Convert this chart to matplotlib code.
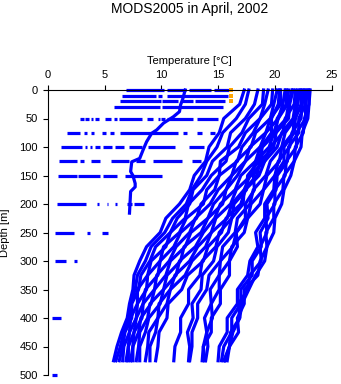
import matplotlib
matplotlib.use("Agg")
import matplotlib.pyplot as plt

plt.rcParams['font.family'] = ['Liberation Sans', 'DejaVu Sans']

title = "MODS2005 in April, 2002"
xlabel = "Temperature [°C]"
ylabel = "Depth [m]"
x_ticks = [0, 5, 10, 15, 20, 25]
y_ticks = [0, 50, 100, 150, 200, 250, 300, 350, 400, 450, 500]

# profile depths (m)
depths = [0, 25, 50, 75, 100, 125, 150, 175, 200, 225, 250, 275, 300, 325, 350, 375, 400, 425, 450, 475]

# temperature profiles (deg C) at the depths above
p01 = [17.3, 16.9, 15.5, 15.1, 14.2, 13.9, 12.9, 12.5, 11.6, 10.4, 9.9, 8.7, 8.1, 7.6, 7.5, 7.2, 7.0, 6.5, 6.1, 5.8]
p02 = [17.7, 17.4, 16.6, 15.4, 14.9, 14.0, 13.5, 12.7, 12.2, 11.0, 10.3, 9.1, 8.6, 7.9, 7.7, 7.3, 7.2, 6.7, 6.4, 6.0]
p03 = [18.5, 18.2, 17.4, 16.1, 15.8, 14.5, 14.0, 12.8, 12.5, 11.4, 10.8, 9.5, 9.0, 8.2, 8.0, 7.4, 7.4, 6.8, 6.6, 6.3]
p04 = [19.0, 18.9, 17.7, 17.1, 16.0, 15.7, 14.4, 13.6, 12.4, 12.1, 10.8, 10.4, 9.1, 8.8, 7.9, 7.9, 7.3, 7.2, 6.7, 6.6]
p05 = [19.4, 19.1, 18.7, 17.4, 16.8, 15.2, 15.1, 14.0, 13.7, 12.2, 11.6, 10.2, 9.9, 8.8, 8.7, 7.9, 7.8, 7.2, 7.1, 6.9]
p06 = [19.8, 19.7, 18.7, 18.1, 17.1, 16.7, 15.1, 14.7, 13.5, 13.1, 11.7, 11.1, 9.9, 9.7, 8.6, 8.4, 7.8, 7.6, 7.1, 7.1]
p07 = [20.2, 19.9, 19.6, 18.3, 17.9, 16.6, 16.2, 15.0, 14.3, 13.0, 12.5, 11.3, 10.7, 9.6, 9.4, 8.4, 8.3, 7.6, 7.5, 7.3]
p08 = [20.5, 20.5, 19.6, 19.2, 17.8, 17.4, 16.2, 15.7, 14.6, 14.1, 12.6, 12.1, 10.8, 10.4, 9.4, 9.1, 8.2, 8.0, 7.5, 7.5]
p09 = [20.9, 20.7, 20.3, 19.2, 18.7, 17.4, 16.7, 15.7, 15.4, 14.1, 13.5, 12.0, 11.7, 10.5, 10.2, 9.0, 8.8, 8.1, 8.0, 7.8]
p10 = [21.2, 21.1, 20.3, 19.9, 18.7, 18.3, 17.0, 16.5, 15.2, 14.7, 13.7, 13.0, 11.6, 11.3, 10.2, 9.9, 8.9, 8.6, 8.1, 8.1]
p11 = [21.5, 21.2, 21.0, 19.9, 19.5, 18.3, 17.9, 16.6, 16.1, 14.8, 14.4, 13.2, 12.5, 11.2, 10.8, 9.8, 9.7, 8.9, 8.8, 8.6]
p12 = [21.8, 21.7, 20.9, 20.7, 19.6, 19.1, 17.8, 17.3, 16.2, 15.8, 14.4, 13.9, 12.7, 12.1, 10.8, 10.5, 9.7, 9.5, 9.0, 9.0]
p13 = [22.0, 21.8, 21.6, 20.6, 20.2, 19.1, 18.6, 17.4, 17.0, 15.7, 15.3, 14.1, 13.7, 12.3, 11.8, 10.6, 10.5, 9.8, 9.7, 9.5]
p14 = [21.0, 21.0, 20.2, 20.1, 18.9, 18.6, 17.6, 17.5, 16.4, 16.2, 15.1, 14.8, 13.6, 13.4, 12.4, 12.4, 11.7, 11.7, 11.2, 11.1]
p15 = [21.6, 21.3, 21.2, 20.1, 19.9, 18.7, 18.4, 17.3, 17.2, 16.2, 15.9, 14.9, 14.6, 13.6, 13.5, 12.7, 12.8, 12.3, 12.5, 12.4]
p16 = [22.2, 22.0, 21.8, 20.9, 20.6, 19.6, 19.2, 18.1, 17.8, 16.7, 16.5, 15.4, 15.2, 14.2, 14.0, 13.2, 13.2, 12.7, 12.7, 12.5]
p17 = [22.4, 22.4, 21.7, 21.6, 20.6, 20.4, 19.3, 19.0, 17.9, 17.6, 16.6, 16.3, 15.2, 15.1, 14.3, 14.4, 13.8, 14.0, 13.7, 13.8]
p18 = [22.6, 22.4, 22.3, 21.5, 21.3, 20.3, 20.0, 19.0, 18.7, 17.6, 17.3, 16.2, 16.0, 15.1, 15.1, 14.4, 14.5, 14.0, 14.1, 13.9]
p19 = [22.7, 22.7, 22.1, 22.1, 21.2, 21.1, 20.2, 20.1, 19.3, 19.4, 18.7, 18.8, 18.0, 18.0, 17.0, 17.0, 16.2, 16.2, 15.5, 15.3]
p20 = [22.9, 22.7, 22.7, 21.9, 21.9, 21.0, 20.9, 20.0, 20.0, 19.2, 19.3, 18.7, 18.8, 17.8, 17.6, 16.8, 16.9, 16.1, 16.0, 15.6]
p21 = [23.0, 23.0, 22.6, 22.5, 21.8, 21.7, 20.8, 20.7, 19.9, 19.9, 19.2, 19.3, 18.7, 18.5, 17.3, 17.3, 16.7, 16.8, 16.0, 15.8]
p22 = [23.1, 23.0, 22.9, 22.4, 22.3, 21.7, 21.4, 20.8, 20.6, 20.0, 19.9, 19.3, 19.1, 18.3, 17.7, 17.1, 16.9, 16.3, 16.0, 15.5]
p23 = [22.3, 22.3, 21.8, 21.7, 20.8, 20.8, 20.0, 19.9, 19.1, 19.1, 18.3, 18.5, 17.8, 17.6, 16.7, 16.7, 15.8, 15.8, 15.1, 15.0]
p24 = [20.4, 20.3, 19.7, 19.7, 18.8, 18.9, 18.1, 18.2, 17.4, 17.4, 16.6, 16.7, 16.0, 16.0, 15.2, 15.2, 14.4, 14.4, 13.7, 13.6]
profiles = [p01, p02, p03, p04, p05, p06, p07, p08, p09, p10, p11, p12,
            p13, p14, p15, p16, p17, p18, p19, p20, p21, p22, p23, p24]

# shallow profile reaching ~215 m
thin_depth = [0, 15, 26, 38, 47, 58, 70, 76, 91, 105, 120, 126, 143, 150, 164, 170, 178, 216]
thin_temp = [12.1, 11.9, 11.7, 11.6, 11.06, 10.2, 9.6, 9.15, 8.7, 8.4, 8.1, 7.4, 7.3, 7.5, 7.7, 7.7, 7.3, 7.2]

# scattered observations at standard depths: (T start, T end) runs
row_depths = [0, 10, 20, 30, 50, 75, 100, 125, 150, 200, 250, 300, 400, 500]
row_0 = [(6.9, 10.2), (10.5, 12.2), (12.4, 14.4), (14.6, 16.0)]
row_10 = [(6.5, 9.5), (9.7, 10.1), (10.5, 15.9)]
row_20 = [(6.4, 9.95), (10.1, 11.5), (11.7, 12.8), (13.0, 15.6)]
row_30 = [(5.8, 9.9), (10.05, 15.4)]
row_50 = [(2.8, 3.2), (3.3, 3.6), (3.8, 4.0), (4.2, 4.5), (5.0, 5.6), (5.8, 6.1),
          (6.3, 8.3), (8.7, 9.3), (9.7, 9.9), (10.0, 10.3), (10.5, 12.8), (13.1, 15.0)]
row_75 = [(1.7, 2.8), (3.2, 3.5), (3.8, 4.1), (4.8, 5.1), (5.5, 5.8), (6.4, 11.5),
          (11.9, 12.3), (13.1, 13.6), (14.3, 14.7)]
row_100 = [(1.2, 3.0), (3.3, 3.5), (3.7, 3.9), (4.2, 4.6), (4.9, 5.7), (5.9, 6.7),
           (7.2, 8.3), (8.8, 11.2), (12.4, 13.8)]
row_125 = [(1.0, 2.6), (2.8, 3.2), (3.8, 4.6), (5.6, 7.2), (7.8, 8.6), (9.3, 11.8), (12.7, 13.5)]
row_150 = [(0.9, 2.6), (2.7, 4.6), (4.9, 6.1), (6.8, 10.1)]
row_200 = [(0.8, 3.4), (4.3, 4.5), (5.2, 5.3), (5.9, 6.1), (7.0, 7.4), (7.6, 8.5)]
row_250 = [(0.6, 2.3), (3.5, 3.7), (4.8, 5.3)]
row_300 = [(0.6, 1.6), (2.3, 2.6)]
row_400 = [(0.35, 1.2)]
row_500 = [(0.35, 0.85)]
rows = [row_0, row_10, row_20, row_30, row_50, row_75, row_100, row_125,
        row_150, row_200, row_250, row_300, row_400, row_500]

# flagged (orange) observations
flag_depth = [0, 10, 20]
flag_temp = [16.1, 16.1, 16.1]

W, H = 341, 384
fig = plt.figure(figsize=(W / 100, H / 100), dpi=100)
x0, x1 = 47.7, 331.7
y0, y1 = 90.0, 375.0
ax = fig.add_axes([x0 / W, 1 - y1 / H, (x1 - x0) / W, (y1 - y0) / H])

blue = '#0000FF'
lw = 2.3
for p in profiles:
    ax.plot(p, depths, color=blue, lw=lw, clip_on=False)
ax.plot(thin_temp, thin_depth, color=blue, lw=lw, clip_on=False)

for d, segs in zip(row_depths, rows):
    for a, b in segs:
        ax.plot([a, b], [d, d], color=blue, lw=lw, solid_capstyle='butt', clip_on=False)

ax.plot(flag_temp, flag_depth, ls='none', marker='s', ms=2.6, mew=0,
        color='#FFA500', clip_on=False)

ax.set_xlim(0, 25)
ax.set_ylim(500, 0)
ax.xaxis.tick_top()
ax.set_xticks(x_ticks)
ax.set_yticks(y_ticks)
ax.spines['right'].set_visible(False)
ax.spines['bottom'].set_visible(False)
for s in ('top', 'left'):
    ax.spines[s].set_linewidth(0.8)
ax.tick_params(axis='both', direction='out', length=3.6, width=0.8,
               labelsize=8, pad=3.5)

fig.text((x0 + x1) / 2 / W, 1 - 12.5 / H, title, ha='center', va='baseline', fontsize=10)
fig.text((x0 + x1) / 2 / W, 1 - 63.5 / H, xlabel, ha='center', va='baseline', fontsize=8)
fig.text(10.5 / W, 1 - (y0 + y1) / 2 / H, ylabel, ha='right', va='center',
         rotation=90, fontsize=8)

fig.savefig('out.png', dpi=100)
